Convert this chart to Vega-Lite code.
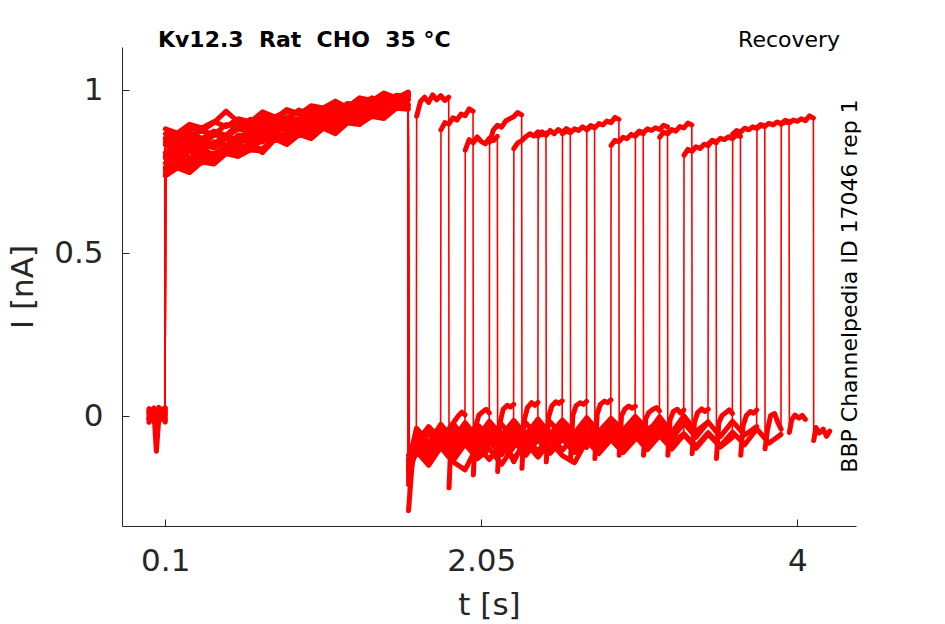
{
  "$schema": "https://vega.github.io/schema/vega-lite/v6.json",
  "width": 734,
  "height": 479,
  "autosize": {"type": "none"},
  "padding": {"left": 122, "top": 47, "right": 89, "bottom": 98},
  "background": "#ffffff",
  "config": {"view": {"stroke": null}},
  "datasets": {
    "traces": [
      {"k":0,"s":0,"t":[0,0.03,0.06,0.099],"i":[0.005,-0.012,0.018,0.002]},
      {"k":0,"s":1,"t":[0.101,0.175,0.25,0.325,0.4,0.475,0.55,0.625,0.7,0.775,0.85,0.925,1,1.075,1.15,1.225,1.3,1.375,1.45,1.525,1.599],"i":[0.805,0.799,0.830,0.818,0.838,0.830,0.862,0.857,0.885,0.868,0.894,0.883,0.915,0.912,0.931,0.916,0.953,0.943,0.960,0.954,0.982]},
      {"k":0,"s":2,"t":[1.601,1.625,1.649],"i":[-0.17,-0.125,-0.09]},
      {"k":0,"s":3,"t":[1.651,1.675,1.7,1.725,1.75,1.775,1.8,1.825,1.849],"i":[0.92,0.965,0.978,0.962,0.985,0.97,0.983,0.968,0.978]},
      {"k":0,"s":4,"t":[1.851,1.865,1.885,1.91,1.93,1.95],"i":[-0.22,-0.045,-0.015,0.002,0.012,0.004]},

      {"k":1,"s":0,"t":[0,0.03,0.06,0.099],"i":[-0.008,0.014,-0.004,0.021]},
      {"k":1,"s":1,"t":[0.101,0.175,0.25,0.325,0.4,0.475,0.55,0.625,0.7,0.775,0.85,0.925,1,1.075,1.15,1.225,1.3,1.375,1.45,1.525,1.599],"i":[0.753,0.781,0.767,0.796,0.798,0.824,0.811,0.834,0.808,0.848,0.845,0.886,0.860,0.883,0.866,0.899,0.894,0.932,0.917,0.960,0.952]},
      {"k":1,"s":2,"t":[1.601,1.625,1.65,1.725,1.799],"i":[-0.15,-0.11,-0.055,-0.1,-0.045]},
      {"k":1,"s":3,"t":[1.801,1.825,1.85,1.875,1.9,1.925,1.95,1.975,1.999],"i":[0.878,0.9,0.896,0.915,0.908,0.926,0.921,0.942,0.935]},
      {"k":1,"s":4,"t":[2.001,2.015,2.035,2.06,2.08,2.1],"i":[-0.18,-0.032,0.003,0.014,0.021,0.009]},

      {"k":2,"s":0,"t":[0,0.03,0.06,0.099],"i":[0.012,-0.006,0.009,-0.015]},
      {"k":2,"s":1,"t":[0.101,0.175,0.25,0.325,0.4,0.475,0.55,0.625,0.7,0.775,0.85,0.925,1,1.075,1.15,1.225,1.3,1.375,1.45,1.525,1.599],"i":[0.849,0.841,0.869,0.851,0.874,0.861,0.895,0.888,0.911,0.896,0.917,0.908,0.943,0.927,0.944,0.936,0.966,0.958,0.979,0.964,0.988]},
      {"k":2,"s":2,"t":[1.601,1.625,1.65,1.725,1.8,1.875,1.949],"i":[-0.29,-0.135,-0.09,-0.135,-0.08,-0.125,-0.078]},
      {"k":2,"s":3,"t":[1.951,1.975,2,2.025,2.05,2.075,2.1,2.125,2.149],"i":[0.816,0.848,0.838,0.856,0.842,0.835,0.852,0.845,0.858]},
      {"k":2,"s":4,"t":[2.151,2.165,2.185,2.21,2.23,2.25],"i":[-0.17,-0.022,0.021,0.033,0.028,0.036]},

      {"k":3,"s":0,"t":[0,0.03,0.06,0.099],"i":[-0.015,0.004,0.022,-0.003]},
      {"k":3,"s":1,"t":[0.101,0.175,0.25,0.325,0.4,0.475,0.55,0.625,0.7,0.775,0.85,0.925,1,1.075,1.15,1.225,1.3,1.375,1.45,1.525,1.599],"i":[0.776,0.802,0.791,0.818,0.802,0.833,0.834,0.857,0.844,0.868,0.860,0.891,0.885,0.915,0.899,0.922,0.920,0.951,0.943,0.967,0.956]},
      {"k":3,"s":2,"t":[1.601,1.625,1.65,1.725,1.8,1.875,1.95,2.025,2.099],"i":[-0.14,-0.095,-0.08,-0.032,-0.072,-0.022,-0.07,-0.026,-0.06]},
      {"k":3,"s":3,"t":[2.101,2.125,2.15,2.175,2.2,2.225,2.25,2.275,2.299],"i":[0.84,0.878,0.892,0.886,0.905,0.912,0.918,0.931,0.924]},
      {"k":3,"s":4,"t":[2.301,2.315,2.335,2.36,2.38,2.4],"i":[-0.16,-0.012,0.026,0.041,0.033,0.042]},

      {"k":4,"s":0,"t":[0,0.03,0.06,0.099],"i":[0.019,-0.011,0.001,0.008]},
      {"k":4,"s":1,"t":[0.101,0.175,0.25,0.325,0.4,0.475,0.55,0.625,0.7,0.775,0.85,0.925,1,1.075,1.15,1.225,1.3,1.375,1.45,1.525,1.599],"i":[0.866,0.855,0.882,0.875,0.900,0.935,0.902,0.893,0.923,0.912,0.940,0.928,0.946,0.931,0.956,0.948,0.976,0.968,0.984,0.973,0.994]},
      {"k":4,"s":2,"t":[1.601,1.625,1.65,1.725,1.8,1.875,1.95,2.025,2.1,2.175,2.249],"i":[-0.2,-0.14,-0.105,-0.15,-0.092,-0.138,-0.085,-0.131,-0.1,-0.148,-0.095]},
      {"k":4,"s":3,"t":[2.251,2.275,2.3,2.325,2.35,2.375,2.4,2.425,2.449],"i":[0.82,0.838,0.845,0.857,0.866,0.859,0.872,0.863,0.868]},
      {"k":4,"s":4,"t":[2.451,2.465,2.485,2.51,2.53,2.55],"i":[-0.14,-0.004,0.031,0.044,0.039,0.047]},

      {"k":5,"s":0,"t":[0,0.03,0.045,0.06,0.099],"i":[-0.002,0.016,-0.108,-0.009,0.012]},
      {"k":5,"s":1,"t":[0.101,0.175,0.25,0.325,0.4,0.475,0.55,0.625,0.7,0.775,0.85,0.925,1,1.075,1.15,1.225,1.3,1.375,1.45,1.525,1.599],"i":[0.737,0.761,0.747,0.779,0.773,0.805,0.797,0.816,0.813,0.849,0.840,0.864,0.851,0.883,0.885,0.909,0.896,0.923,0.922,0.953,0.944]},
      {"k":5,"s":2,"t":[1.601,1.625,1.65,1.725,1.8,1.875,1.95,2.025,2.1,2.175,2.25,2.325,2.399],"i":[-0.16,-0.12,-0.07,-0.113,-0.058,-0.103,-0.05,-0.098,-0.053,-0.095,-0.046,-0.092,-0.05]},
      {"k":5,"s":3,"t":[2.401,2.425,2.45,2.475,2.5,2.525,2.55,2.575,2.599],"i":[0.858,0.872,0.861,0.876,0.866,0.879,0.87,0.882,0.874]},
      {"k":5,"s":4,"t":[2.601,2.615,2.635,2.66,2.68,2.7],"i":[-0.13,0.002,0.032,0.041,0.036,0.045]},

      {"k":6,"s":0,"t":[0,0.03,0.06,0.099],"i":[0.01,0.025,-0.013,0.004]},
      {"k":6,"s":1,"t":[0.101,0.175,0.25,0.325,0.4,0.475,0.55,0.625,0.7,0.775,0.85,0.925,1,1.075,1.15,1.225,1.3,1.375,1.45,1.525,1.599],"i":[0.832,0.821,0.841,0.831,0.862,0.857,0.883,0.867,0.886,0.880,0.908,0.902,0.929,0.914,0.936,0.926,0.957,0.954,0.975,0.964,0.986]},
      {"k":6,"s":2,"t":[1.601,1.625,1.65,1.725,1.8,1.875,1.95,2.025,2.1,2.175,2.25,2.325,2.4,2.475,2.549],"i":[-0.13,-0.098,-0.047,-0.09,-0.036,-0.079,-0.028,-0.075,-0.058,-0.025,-0.072,-0.021,-0.065,-0.018,-0.06]},
      {"k":6,"s":3,"t":[2.551,2.575,2.6,2.625,2.65,2.675,2.7,2.725,2.749],"i":[0.866,0.874,0.869,0.881,0.876,0.887,0.879,0.891,0.886]},
      {"k":6,"s":4,"t":[2.751,2.765,2.785,2.81,2.83,2.85],"i":[-0.13,0.006,0.036,0.046,0.041,0.05]},

      {"k":7,"s":0,"t":[0,0.03,0.06,0.099],"i":[-0.011,-0.002,0.015,-0.018]},
      {"k":7,"s":1,"t":[0.101,0.175,0.25,0.325,0.4,0.475,0.55,0.625,0.7,0.775,0.85,0.925,1,1.075,1.15,1.225,1.3,1.375,1.45,1.525,1.599],"i":[0.760,0.783,0.783,0.811,0.795,0.825,0.811,0.841,0.841,0.864,0.854,0.886,0.877,0.897,0.887,0.919,0.913,0.929,0.926,0.954,0.953]},
      {"k":7,"s":2,"t":[1.601,1.625,1.65,1.725,1.8,1.875,1.95,2.025,2.1,2.175,2.25,2.325,2.4,2.475,2.55,2.625,2.699],"i":[-0.18,-0.13,-0.085,-0.128,-0.074,-0.121,-0.069,-0.114,-0.081,-0.064,-0.14,-0.066,-0.108,-0.057,-0.105,-0.061,-0.096]},
      {"k":7,"s":3,"t":[2.701,2.725,2.75,2.775,2.8,2.825,2.85,2.875,2.899],"i":[0.878,0.889,0.884,0.897,0.893,0.905,0.9,0.916,0.91]},
      {"k":7,"s":4,"t":[2.901,2.915,2.935,2.96,2.98,3],"i":[-0.12,0.001,0.021,0.031,0.024,0.03]},

      {"k":8,"s":0,"t":[0,0.03,0.06,0.099],"i":[0.023,0.007,-0.007,0.015]},
      {"k":8,"s":1,"t":[0.101,0.175,0.25,0.325,0.4,0.475,0.55,0.625,0.7,0.775,0.85,0.925,1,1.075,1.15,1.225,1.3,1.375,1.45,1.525,1.599],"i":[0.853,0.869,0.856,0.876,0.863,0.894,0.887,0.910,0.893,0.914,0.911,0.939,0.922,0.943,0.933,0.959,0.955,0.976,0.959,0.984,0.980]},
      {"k":8,"s":2,"t":[1.601,1.625,1.65,1.725,1.8,1.875,1.95,2.025,2.1,2.175,2.25,2.325,2.4,2.475,2.55,2.625,2.7,2.775,2.849],"i":[-0.15,-0.105,-0.105,-0.051,-0.094,-0.046,-0.088,-0.039,-0.083,-0.068,-0.036,-0.084,-0.037,-0.077,-0.03,-0.079,-0.034,-0.071,-0.031]},
      {"k":8,"s":3,"t":[2.851,2.875,2.9,2.925,2.95,2.975,3,3.025,3.049],"i":[0.83,0.846,0.842,0.855,0.851,0.864,0.858,0.871,0.866]},
      {"k":8,"s":4,"t":[3.051,3.065,3.085,3.11,3.13,3.15],"i":[-0.12,-0.008,0.012,0.021,0.026,0.016]},

      {"k":9,"s":0,"t":[0,0.03,0.06,0.099],"i":[-0.004,-0.016,0.011,0.026]},
      {"k":9,"s":1,"t":[0.101,0.175,0.25,0.325,0.4,0.475,0.55,0.625,0.7,0.775,0.85,0.925,1,1.075,1.15,1.225,1.3,1.375,1.45,1.525,1.599],"i":[0.798,0.786,0.812,0.808,0.841,0.830,0.854,0.839,0.868,0.869,0.892,0.878,0.901,0.899,0.930,0.919,0.943,0.928,0.957,0.951,0.981]},
      {"k":9,"s":2,"t":[1.601,1.625,1.65,1.725,1.8,1.875,1.95,2.025,2.1,2.175,2.25,2.325,2.4,2.475,2.55,2.625,2.7,2.775,2.85,2.925,2.999],"i":[-0.21,-0.14,-0.108,-0.15,-0.096,-0.14,-0.165,-0.091,-0.133,-0.085,-0.13,-0.083,-0.126,-0.078,-0.121,-0.143,-0.076,-0.115,-0.072,-0.112,-0.071]},
      {"k":9,"s":3,"t":[3.001,3.025,3.05,3.075,3.1,3.125,3.15,3.175,3.199],"i":[0.862,0.874,0.869,0.881,0.876,0.884,0.879,0.892,0.887]},
      {"k":9,"s":4,"t":[3.201,3.215,3.235,3.26,3.28,3.3],"i":[-0.12,-0.011,0.014,0.021,0.009,0.019]},

      {"k":10,"s":0,"t":[0,0.03,0.06,0.099],"i":[0.014,0.02,-0.001,-0.01]},
      {"k":10,"s":1,"t":[0.101,0.175,0.25,0.325,0.4,0.475,0.55,0.625,0.7,0.775,0.85,0.925,1,1.075,1.15,1.225,1.3,1.375,1.45,1.525,1.599],"i":[0.744,0.769,0.759,0.793,0.786,0.806,0.797,0.822,0.820,0.851,0.833,0.863,0.865,0.887,0.880,0.908,0.896,0.919,0.913,0.944,0.941]},
      {"k":10,"s":2,"t":[1.601,1.625,1.65,1.725,1.8,1.875,1.95,2.025,2.1,2.175,2.25,2.325,2.4,2.475,2.55,2.625,2.7,2.775,2.85,2.925,3,3.075,3.149],"i":[-0.12,-0.092,-0.037,-0.082,-0.025,-0.071,-0.02,-0.067,-0.016,-0.06,-0.013,-0.058,-0.009,-0.056,-0.012,-0.052,-0.005,-0.048,-0.007,-0.044,-0.001,-0.041,-0.016]},
      {"k":10,"s":3,"t":[3.151,3.175,3.2,3.225,3.25,3.275,3.3,3.325,3.349],"i":[0.855,0.871,0.866,0.879,0.874,0.888,0.884,0.899,0.893]},
      {"k":10,"s":4,"t":[3.351,3.365,3.385,3.41,3.43,3.45],"i":[-0.115,-0.02,0.011,0.022,0.014,0.021]},

      {"k":11,"s":0,"t":[0,0.03,0.06,0.099],"i":[-0.019,0.009,0.005,0.011]},
      {"k":11,"s":1,"t":[0.101,0.175,0.25,0.325,0.4,0.475,0.55,0.625,0.7,0.775,0.85,0.925,1,1.075,1.15,1.225,1.3,1.375,1.45,1.525,1.599],"i":[0.840,0.834,0.852,0.838,0.872,0.859,0.880,0.880,0.904,0.886,0.907,0.905,0.931,0.923,0.944,0.930,0.965,0.951,0.969,0.964,0.987]},
      {"k":11,"s":2,"t":[1.601,1.625,1.65,1.725,1.8,1.875,1.95,2.025,2.1,2.175,2.25,2.325,2.4,2.475,2.55,2.625,2.7,2.775,2.85,2.925,3,3.075,3.15,3.225,3.299],"i":[-0.17,-0.125,-0.081,-0.125,-0.068,-0.113,-0.063,-0.11,-0.059,-0.104,-0.057,-0.101,-0.055,-0.108,-0.049,-0.097,-0.048,-0.093,-0.044,-0.091,-0.041,-0.088,-0.039,-0.081,-0.055]},
      {"k":11,"s":3,"t":[3.301,3.325,3.35,3.375,3.4,3.425,3.45,3.475,3.499],"i":[0.8,0.818,0.812,0.826,0.821,0.834,0.829,0.845,0.838]},
      {"k":11,"s":4,"t":[3.501,3.515,3.535,3.56,3.58,3.6],"i":[-0.13,-0.022,0.002,0.011,0.019,0.008]},

      {"k":12,"s":0,"t":[0,0.03,0.06,0.099],"i":[0.003,-0.014,0.027,-0.006]},
      {"k":12,"s":1,"t":[0.101,0.175,0.25,0.325,0.4,0.475,0.55,0.625,0.7,0.775,0.85,0.925,1,1.075,1.15,1.225,1.3,1.375,1.45,1.525,1.599],"i":[0.808,0.832,0.816,0.837,0.836,0.861,0.845,0.874,0.870,0.894,0.883,0.900,0.892,0.923,0.917,0.943,0.929,0.952,0.943,0.967,0.973]},
      {"k":12,"s":2,"t":[1.601,1.625,1.65,1.725,1.8,1.875,1.95,2.025,2.1,2.175,2.25,2.325,2.4,2.475,2.55,2.625,2.7,2.775,2.85,2.925,3,3.075,3.15,3.225,3.3,3.375,3.449],"i":[-0.14,-0.098,-0.045,-0.092,-0.033,-0.08,-0.028,-0.076,-0.024,-0.071,-0.021,-0.065,-0.017,-0.068,-0.015,-0.062,-0.012,-0.057,-0.009,-0.059,-0.006,-0.053,-0.002,-0.051,0.001,-0.047,-0.018]},
      {"k":12,"s":3,"t":[3.451,3.475,3.5,3.525,3.55,3.575,3.6,3.625,3.649],"i":[0.835,0.846,0.841,0.852,0.848,0.857,0.851,0.862,0.858]},
      {"k":12,"s":4,"t":[3.651,3.665,3.685,3.71,3.73,3.75],"i":[-0.12,-0.03,0.001,0.014,0.009,0.019]},

      {"k":13,"s":0,"t":[0,0.03,0.06,0.099],"i":[0.016,0.001,-0.01,0.019]},
      {"k":13,"s":1,"t":[0.101,0.175,0.25,0.325,0.4,0.475,0.55,0.625,0.7,0.775,0.85,0.925,1,1.075,1.15,1.225,1.3,1.375,1.45,1.525,1.599],"i":[0.881,0.868,0.895,0.884,0.903,0.888,0.912,0.902,0.933,0.918,0.933,0.925,0.952,0.945,0.966,0.946,0.973,0.967,0.991,0.976,0.992]},
      {"k":13,"s":2,"t":[1.601,1.625,1.65,1.725,1.8,1.875,1.95,2.025,2.1,2.175,2.25,2.325,2.4,2.475,2.55,2.625,2.7,2.775,2.85,2.925,3,3.075,3.15,3.225,3.3,3.375,3.45,3.525,3.599],"i":[-0.19,-0.135,-0.099,-0.144,-0.085,-0.131,-0.082,-0.127,-0.078,-0.118,-0.075,-0.12,-0.072,-0.114,-0.07,-0.112,-0.067,-0.109,-0.065,-0.105,-0.062,-0.103,-0.06,-0.101,-0.057,-0.099,-0.055,-0.095,-0.066]},
      {"k":13,"s":3,"t":[3.601,3.625,3.65,3.675,3.7,3.725,3.75,3.775,3.799],"i":[0.865,0.876,0.871,0.883,0.878,0.887,0.882,0.892,0.888]},
      {"k":13,"s":4,"t":[3.801,3.815,3.835,3.86,3.88,3.9],"i":[-0.1,-0.045,0.002,0.008,-0.02,-0.04]},

      {"k":14,"s":0,"t":[0,0.03,0.06,0.099],"i":[-0.007,0.018,0.008,-0.012]},
      {"k":14,"s":1,"t":[0.101,0.175,0.25,0.325,0.4,0.475,0.55,0.625,0.7,0.775,0.85,0.925,1,1.075,1.15,1.225,1.3,1.375,1.45,1.525,1.599],"i":[0.764,0.761,0.792,0.776,0.806,0.807,0.830,0.818,0.848,0.845,0.874,0.860,0.885,0.882,0.911,0.906,0.933,0.919,0.943,0.944,0.969]},
      {"k":14,"s":2,"t":[1.601,1.625,1.65,1.725,1.8,1.875,1.95,2.025,2.1,2.175,2.25,2.325,2.4,2.475,2.55,2.625,2.7,2.775,2.85,2.925,3,3.075,3.15,3.225,3.3,3.375,3.45,3.525,3.6,3.675,3.749],"i":[-0.16,-0.117,-0.066,-0.11,-0.053,-0.098,-0.048,-0.094,-0.045,-0.09,-0.042,-0.087,-0.039,-0.083,-0.036,-0.079,-0.034,-0.081,-0.03,-0.074,-0.027,-0.071,-0.024,-0.07,-0.021,-0.065,-0.018,-0.063,-0.016,-0.058,-0.032]},
      {"k":14,"s":3,"t":[3.751,3.775,3.8,3.825,3.85,3.875,3.9,3.925,3.949],"i":[0.885,0.894,0.889,0.898,0.893,0.902,0.897,0.907,0.903]},
      {"k":14,"s":4,"t":[3.951,3.965,3.985,4.01,4.03,4.05],"i":[-0.05,-0.012,0.003,-0.006,0.002,-0.01]},

      {"k":15,"s":0,"t":[0,0.03,0.06,0.099],"i":[0.008,-0.009,-0.016,0.024]},
      {"k":15,"s":1,"t":[0.101,0.175,0.25,0.325,0.4,0.475,0.55,0.625,0.7,0.775,0.85,0.925,1,1.075,1.15,1.225,1.3,1.375,1.45,1.525,1.599],"i":[0.791,0.815,0.814,0.837,0.822,0.852,0.846,0.876,0.860,0.883,0.882,0.908,0.891,0.917,0.914,0.944,0.936,0.957,0.946,0.976,0.972]},
      {"k":15,"s":2,"t":[1.601,1.625,1.65,1.725,1.8,1.875,1.95,2.025,2.1,2.175,2.25,2.325,2.4,2.475,2.55,2.625,2.7,2.775,2.85,2.925,3,3.075,3.15,3.225,3.3,3.375,3.45,3.525,3.6,3.675,3.75,3.825,3.899],"i":[-0.15,-0.13,-0.091,-0.135,-0.08,-0.125,-0.077,-0.121,-0.074,-0.116,-0.071,-0.113,-0.068,-0.111,-0.066,-0.107,-0.064,-0.104,-0.061,-0.102,-0.059,-0.099,-0.056,-0.097,-0.054,-0.093,-0.051,-0.091,-0.049,-0.088,-0.039,-0.083,-0.056]},
      {"k":15,"s":3,"t":[3.901,3.925,3.95,3.975,4,4.025,4.05,4.075,4.099],"i":[0.895,0.903,0.899,0.908,0.904,0.912,0.906,0.921,0.914]},
      {"k":15,"s":4,"t":[4.101,4.115,4.135,4.16,4.18,4.2],"i":[-0.075,-0.035,-0.052,-0.04,-0.062,-0.046]}
    ]
  },
  "layer": [
    {
      "data": {"name": "traces"},
      "transform": [{"flatten": ["t", "i"]}],
      "mark": {"type": "line", "color": "#ff0000", "strokeWidth": 5, "strokeJoin": "round", "strokeCap": "round", "clip": true},
      "encoding": {
        "x": {
          "field": "t", "type": "quantitative",
          "scale": {"domain": [-0.167, 4.362], "nice": false, "zero": false},
          "axis": {
            "values": [0.1, 2.05, 4], "format": ".3~g", "title": "t [s]", "grid": false,
            "tickSize": -7, "labelPadding": 27, "titlePadding": 14,
            "labelFont": "DejaVu Sans", "labelFontSize": 31, "labelColor": "#262626",
            "titleFont": "DejaVu Sans", "titleFontSize": 31, "titleFontWeight": "normal", "titleColor": "#262626",
            "domainColor": "#262626", "tickColor": "#262626", "labelFlush": false
          }
        },
        "y": {
          "field": "i", "type": "quantitative",
          "scale": {"domain": [-0.337, 1.132], "nice": false, "zero": false},
          "axis": {
            "values": [0, 0.5, 1], "format": ".3~g", "title": "I [nA]", "grid": false,
            "tickSize": -7, "labelPadding": 26, "titlePadding": 14,
            "labelFont": "DejaVu Sans", "labelFontSize": 31, "labelColor": "#262626",
            "titleFont": "DejaVu Sans", "titleFontSize": 31, "titleFontWeight": "normal", "titleColor": "#262626",
            "domainColor": "#262626", "tickColor": "#262626"
          }
        },
        "detail": [{"field": "k", "type": "nominal"}, {"field": "s", "type": "nominal"}]
      }
    },
    {
      "data": {"name": "traces"},
      "transform": [{"flatten": ["t", "i"]}],
      "mark": {"type": "line", "color": "#ff0000", "strokeWidth": 1.6, "clip": true},
      "encoding": {
        "x": {"field": "t", "type": "quantitative"},
        "y": {"field": "i", "type": "quantitative"},
        "detail": {"field": "k", "type": "nominal"}
      }
    },
    {
      "data": {"values": [{}]},
      "mark": {"type": "text", "text": "Kv12.3\u00a0 Rat\u00a0 CHO\u00a0 35 °C", "font": "DejaVu Sans", "fontSize": 22, "fontWeight": "bold", "align": "left", "baseline": "alphabetic", "color": "#000000"},
      "encoding": {"x": {"datum": 0.055, "type": "quantitative"}, "y": {"datum": 1.133, "type": "quantitative"}}
    },
    {
      "data": {"values": [{}]},
      "mark": {"type": "text", "text": "Recovery", "font": "DejaVu Sans", "fontSize": 22, "align": "right", "baseline": "alphabetic", "color": "#000000"},
      "encoding": {"x": {"datum": 4.264, "type": "quantitative"}, "y": {"datum": 1.133, "type": "quantitative"}}
    },
    {
      "data": {"values": [{}]},
      "mark": {"type": "text", "text": "BBP Channelpedia ID 17046 rep 1", "font": "DejaVu Sans", "fontSize": 22, "angle": 270, "align": "center", "baseline": "middle", "color": "#000000"},
      "encoding": {"x": {"datum": 4.325, "type": "quantitative"}, "y": {"datum": 0.399, "type": "quantitative"}}
    }
  ]
}
